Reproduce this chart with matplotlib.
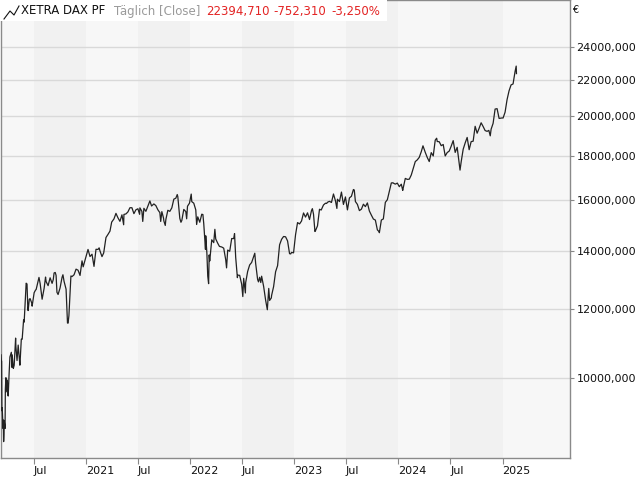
import matplotlib
matplotlib.use("Agg")
import matplotlib.pyplot as plt
import matplotlib.ticker as mticker
from matplotlib.lines import Line2D
from matplotlib.patches import Rectangle
import pandas as pd

# DAX closes (roughly weekly plus the big swings)
dates = [
    "2020-03-09", "2020-03-10", "2020-03-11", "2020-03-12", "2020-03-13", "2020-03-16", "2020-03-17",
    "2020-03-18", "2020-03-19", "2020-03-20", "2020-03-23", "2020-03-24", "2020-03-25", "2020-03-26",
    "2020-03-27", "2020-03-31", "2020-04-02", "2020-04-03", "2020-04-06", "2020-04-09", "2020-04-14",
    "2020-04-16", "2020-04-17", "2020-04-21", "2020-04-24", "2020-04-29", "2020-04-30", "2020-05-04",
    "2020-05-08", "2020-05-14", "2020-05-15", "2020-05-19", "2020-05-22", "2020-05-27", "2020-05-29",
    "2020-06-03", "2020-06-05", "2020-06-08", "2020-06-11", "2020-06-12", "2020-06-16", "2020-06-19",
    "2020-06-25", "2020-06-26", "2020-07-03", "2020-07-08", "2020-07-10", "2020-07-17", "2020-07-20",
    "2020-07-24", "2020-07-30", "2020-07-31", "2020-08-07", "2020-08-12", "2020-08-14", "2020-08-21",
    "2020-08-28", "2020-09-04", "2020-09-08", "2020-09-11", "2020-09-15", "2020-09-18", "2020-09-21",
    "2020-09-25", "2020-10-02", "2020-10-09", "2020-10-12", "2020-10-16", "2020-10-23", "2020-10-28",
    "2020-10-30", "2020-11-02", "2020-11-06", "2020-11-09", "2020-11-13", "2020-11-20", "2020-11-27",
    "2020-12-04", "2020-12-11", "2020-12-18", "2020-12-22", "2020-12-30",
    "2021-01-08", "2021-01-15", "2021-01-22", "2021-01-29", "2021-02-05", "2021-02-12", "2021-02-16",
    "2021-02-19", "2021-02-26", "2021-03-04", "2021-03-12", "2021-03-19", "2021-03-26", "2021-04-01",
    "2021-04-09", "2021-04-16", "2021-04-23", "2021-04-30", "2021-05-07", "2021-05-13", "2021-05-14",
    "2021-05-21", "2021-05-28", "2021-06-04", "2021-06-11", "2021-06-18", "2021-06-25", "2021-07-02",
    "2021-07-08", "2021-07-09", "2021-07-16", "2021-07-19", "2021-07-23", "2021-07-30", "2021-08-06",
    "2021-08-13", "2021-08-19", "2021-08-27", "2021-09-03", "2021-09-10", "2021-09-17", "2021-09-20",
    "2021-09-24", "2021-09-30", "2021-10-01", "2021-10-06", "2021-10-08", "2021-10-15", "2021-10-22",
    "2021-10-29", "2021-11-05", "2021-11-12", "2021-11-17", "2021-11-19", "2021-11-26", "2021-11-30",
    "2021-12-03", "2021-12-10", "2021-12-17", "2021-12-20", "2021-12-23", "2021-12-30",
    "2022-01-05", "2022-01-07", "2022-01-14", "2022-01-21", "2022-01-24", "2022-01-28", "2022-02-04",
    "2022-02-11", "2022-02-15", "2022-02-18", "2022-02-24", "2022-02-25", "2022-03-01", "2022-03-04",
    "2022-03-07", "2022-03-09", "2022-03-11", "2022-03-18", "2022-03-25", "2022-03-29", "2022-04-01",
    "2022-04-08", "2022-04-14", "2022-04-22", "2022-04-29", "2022-05-06", "2022-05-09", "2022-05-13",
    "2022-05-20", "2022-05-27", "2022-06-03", "2022-06-06", "2022-06-10", "2022-06-16", "2022-06-17",
    "2022-06-24", "2022-07-01", "2022-07-05", "2022-07-08", "2022-07-14", "2022-07-15", "2022-07-22",
    "2022-07-29", "2022-08-05", "2022-08-12", "2022-08-16", "2022-08-19", "2022-08-26", "2022-08-29",
    "2022-09-02", "2022-09-06", "2022-09-09", "2022-09-16", "2022-09-23", "2022-09-29", "2022-09-30",
    "2022-10-04", "2022-10-07", "2022-10-13", "2022-10-14", "2022-10-21", "2022-10-28", "2022-11-04",
    "2022-11-11", "2022-11-18", "2022-11-25", "2022-12-02", "2022-12-09", "2022-12-16", "2022-12-20",
    "2022-12-23", "2022-12-30",
    "2023-01-06", "2023-01-13", "2023-01-20", "2023-01-27", "2023-02-03", "2023-02-10", "2023-02-17",
    "2023-02-24", "2023-03-03", "2023-03-06", "2023-03-10", "2023-03-15", "2023-03-17", "2023-03-24",
    "2023-03-31", "2023-04-06", "2023-04-14", "2023-04-21", "2023-04-25", "2023-04-28", "2023-05-05",
    "2023-05-12", "2023-05-19", "2023-05-26", "2023-05-31", "2023-06-02", "2023-06-09", "2023-06-16",
    "2023-06-23", "2023-06-30", "2023-07-07", "2023-07-14", "2023-07-21", "2023-07-28", "2023-07-31",
    "2023-08-04", "2023-08-11", "2023-08-18", "2023-08-25", "2023-09-01", "2023-09-08", "2023-09-15",
    "2023-09-22", "2023-09-29", "2023-10-06", "2023-10-13", "2023-10-20", "2023-10-26", "2023-10-27",
    "2023-11-03", "2023-11-10", "2023-11-17", "2023-11-24", "2023-12-01", "2023-12-08", "2023-12-14",
    "2023-12-15", "2023-12-22", "2023-12-29",
    "2024-01-05", "2024-01-12", "2024-01-17", "2024-01-19", "2024-01-26", "2024-02-02", "2024-02-09",
    "2024-02-16", "2024-02-23", "2024-03-01", "2024-03-08", "2024-03-15", "2024-03-22", "2024-03-28",
    "2024-04-05", "2024-04-12", "2024-04-19", "2024-04-26", "2024-05-03", "2024-05-10", "2024-05-15",
    "2024-05-17", "2024-05-24", "2024-05-31", "2024-06-07", "2024-06-14", "2024-06-21", "2024-06-28",
    "2024-07-05", "2024-07-12", "2024-07-19", "2024-07-26", "2024-08-02", "2024-08-05", "2024-08-09",
    "2024-08-16", "2024-08-23", "2024-08-30", "2024-09-06", "2024-09-13", "2024-09-20", "2024-09-27",
    "2024-10-04", "2024-10-11", "2024-10-18", "2024-10-25", "2024-11-01", "2024-11-08", "2024-11-14",
    "2024-11-19", "2024-11-22", "2024-11-29", "2024-12-06", "2024-12-13", "2024-12-20", "2024-12-30",
    "2025-01-03", "2025-01-10", "2025-01-17", "2025-01-24", "2025-01-31", "2025-02-07", "2025-02-14",
    "2025-02-18", "2025-02-19",
]
closes = [
    10625, 10475, 10439, 9161, 9232, 8742, 8939,
    8442, 8610, 8929, 8741, 9701, 9874, 10000,
    9633, 9936, 9571, 9526, 10075, 10565, 10697,
    10280, 10626, 10250, 10336, 11107, 10862, 10467,
    10904, 10338, 10465, 11075, 11074, 11657, 11587,
    12487, 12848, 12820, 11970, 11949, 12315, 12331,
    12178, 12089, 12528, 12617, 12633, 12920, 13046,
    12838, 12379, 12313, 12674, 13058, 12901, 12765,
    13033, 12842, 12968, 13202, 13218, 13116, 12542,
    12469, 12689, 13051, 13138, 12909, 12646, 11561,
    11556, 11789, 12480, 13096, 13076, 13137, 13335,
    13298, 13114, 13631, 13418, 13719,
    14050, 13788, 13874, 13433, 14056, 14050, 14110,
    13993, 13786, 13920, 14502, 14621, 14749, 15107,
    15234, 15460, 15280, 15136, 15400, 15000, 15417,
    15437, 15520, 15693, 15693, 15448, 15607, 15650,
    15421, 15688, 15540, 15133, 15669, 15544, 15761,
    15977, 15765, 15852, 15781, 15609, 15490, 15132,
    15532, 15261, 15156, 14973, 15206, 15587, 15543,
    15688, 16054, 16094, 16251, 16160, 15257, 15100,
    15170, 15623, 15532, 15239, 15756, 15885,
    16271, 15948, 15883, 15603, 15011, 15318, 15100,
    15425, 15412, 15042, 14052, 14567, 13905, 13094,
    12832, 13847, 13628, 14413, 14306, 14820, 14446,
    14284, 14164, 14142, 14098, 13674, 13380, 14027,
    13982, 14462, 14460, 14653, 13762, 13038, 13126,
    13118, 12813, 12401, 13015, 12519, 12864, 13254,
    13484, 13574, 13795, 13910, 13544, 12971, 12893,
    13050, 12871, 13088, 12741, 12284, 11975, 12114,
    12671, 12273, 12355, 12438, 12731, 13243, 13460,
    14224, 14432, 14541, 14529, 14371, 13893, 13885,
    13941, 13924,
    14610, 15087, 15033, 15150, 15476, 15308, 15482,
    15210, 15578, 15654, 15428, 14735, 14768, 14957,
    15629, 15598, 15808, 15882, 15872, 15922, 15961,
    15914, 16275, 15983, 15664, 16051, 15950, 16358,
    15830, 16148, 15603, 16106, 16177, 16469, 16447,
    15952, 15832, 15574, 15632, 15840, 15740, 15894,
    15557, 15387, 15230, 15187, 14798, 14731, 14687,
    15189, 15234, 15919, 16029, 16398, 16759, 16766,
    16751, 16706, 16752,
    16594, 16704, 16431, 16555, 16961, 16918, 16927,
    17117, 17419, 17735, 17815, 17936, 18206, 18492,
    18175, 17930, 17737, 18161, 18001, 18773, 18869,
    18704, 18693, 18498, 18557, 18002, 18164, 18235,
    18475, 18748, 18172, 18417, 17661, 17339, 17723,
    18322, 18633, 18907, 18302, 18699, 18720, 19474,
    19121, 19374, 19657, 19464, 19255, 19215, 19264,
    18988, 19323, 19626, 20384, 20406, 19885, 19909,
    19906, 20215, 20903, 21395, 21732, 21787, 22513,
    22844, 22395,
]

y_ticks = [10000, 12000, 14000, 16000, 18000, 20000, 22000, 24000]
x_ticks = ["2020-07-01", "2021-01-01", "2021-07-01", "2022-01-01", "2022-07-01",
           "2023-01-01", "2023-07-01", "2024-01-01", "2024-07-01", "2025-01-01"]
x_labels = ["Jul", "2021", "Jul", "2022", "Jul", "2023", "Jul", "2024", "Jul", "2025"]
dark_halves = [("2020-07-01", "2021-01-01"), ("2021-07-01", "2022-01-01"), ("2022-07-01", "2023-01-01"),
               ("2023-07-01", "2024-01-01"), ("2024-07-01", "2025-01-01")]

W, H = 640, 480
fig = plt.figure(figsize=(6.4, 4.8), dpi=100)
fig.patch.set_facecolor("white")
ax = fig.add_axes([0.5 / W, 22 / H, 569 / W, 458 / H])
ax.set_facecolor("#f7f7f7")

for a, b in dark_halves:
    ax.axvspan(pd.Timestamp(a), pd.Timestamp(b), color="#f1f1f1", lw=0, zorder=0)

x = pd.to_datetime(dates)
ax.plot(x, closes, color="#222222", lw=0.9, zorder=3)

ax.set_yscale("log")
ax.set_ylim(8083, 27218)
ax.set_xlim(pd.Timestamp("2020-03-07"), pd.Timestamp("2025-08-24"))

ax.yaxis.tick_right()
ax.set_yticks(y_ticks)
ax.yaxis.set_major_formatter(mticker.FuncFormatter(lambda v, p: "%d,000" % v))
ax.yaxis.set_minor_locator(mticker.NullLocator())
ax.yaxis.grid(True, color="#d9d9d9", lw=1)
ax.set_axisbelow(True)

ax.set_xticks(pd.to_datetime(x_ticks))
ax.set_xticklabels(x_labels, ha="left")
ax.tick_params(axis="x", length=4, width=0.8, color="#888888", pad=2, labelsize=8, labelcolor="#111111")
ax.tick_params(axis="y", length=3, width=0.8, color="#888888", pad=2, labelsize=8, labelcolor="#111111")
for s in ax.spines.values():
    s.set_color("#8a8a8a")
    s.set_linewidth(1)


def fx(px):
    return px / W


def fy(py):
    return 1 - py / H


# header box in the top-left corner
fig.add_artist(Rectangle((fx(0), fy(21)), fx(387), 21 / H, facecolor="white", edgecolor="none",
                         transform=fig.transFigure, zorder=5))
fig.add_artist(Line2D([fx(4), fx(10), fx(14), fx(19)], [fy(19), fy(11), fy(15), fy(6)],
                      color="#111111", lw=0.8, transform=fig.transFigure, zorder=6))
header = [(21, "XETRA DAX PF", "#111111"), (114, "Täglich [Close]", "#9a9a9a"),
          (206, "22394,710", "#e32424"), (273, "-752,310", "#e32424"), (331, "-3,250%", "#e32424")]
for px, txt, col in header:
    fig.text(fx(px), fy(11), txt, color=col, fontsize=8.5, ha="left", va="center", zorder=7)

fig.text(fx(572), fy(10), "€", fontsize=7, color="#111111", ha="left", va="center")

fig.savefig("out.png", dpi=100)
